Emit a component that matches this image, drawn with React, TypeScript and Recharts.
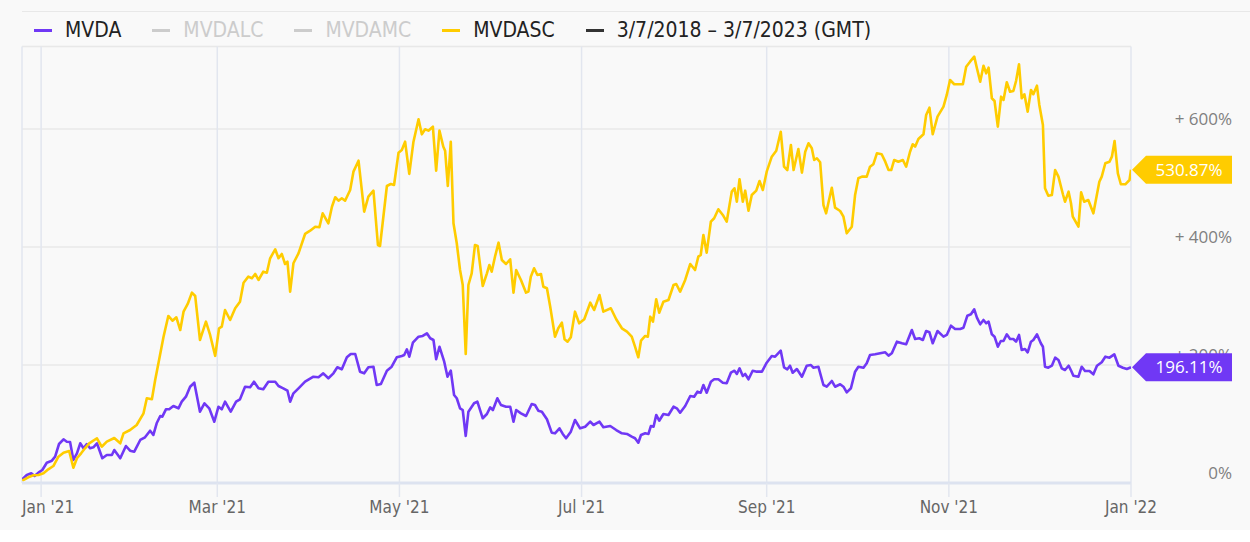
import { LineChart, Line, XAxis, YAxis, CartesianGrid, Legend, LabelList } from 'recharts';

// x values are days since 1 Jan 2021, y values are % return
const monthTicks = [0, 59, 120, 181, 243, 304, 365];
const monthLabels = ["Jan '21", "Mar '21", "May '21", "Jul '21", "Sep '21", "Nov '21", "Jan '22"];
const percentTicks = [0, 200, 400, 600];

const legendNames = ['MVDA', 'MVDALC', 'MVDAMC', 'MVDASC', '3/7/2018 – 3/7/2023 (GMT)'];
const legendSwatches = ['#7038f5', '#cccccc', '#cccccc', '#ffcc00', '#333333'];
const legendText = ['#222222', '#cccccc', '#cccccc', '#222222', '#222222'];

const mvdascDays = [
  -6.3, -4.3, -2.6, -0.9, 0.8, 2.4, 4.1, 5.8, 7.5, 9.4,
  10.8, 12.0, 13.4, 14.7, 16.1, 18.7, 20.3, 22.0, 24.5, 26.5,
  27.6, 29.8, 32.0, 34.3, 35.4, 37.1, 38.2, 39.5, 41.0, 42.6,
  44.0, 45.3, 46.6, 47.7, 49.1, 50.5, 51.6, 53.2, 55.2, 56.6,
  58.3, 59.6, 60.5, 61.6, 63.3, 65.0, 66.6, 67.8, 69.4, 70.6,
  71.7, 72.8, 74.4, 75.6, 76.7, 78.4, 79.5, 80.6, 81.7, 82.5,
  83.4, 84.5, 86.2, 88.4, 90.1, 91.8, 93.2, 94.3, 96.2, 97.4,
  98.5, 99.6, 100.7, 101.8, 103.5, 104.6, 106.3, 108.2, 109.6, 111.3,
  112.8, 113.5, 115.8, 117.1, 118.2, 119.7, 120.8, 121.9, 123.3, 124.7,
  126.4, 127.5, 128.6, 129.7, 131.2, 132.3, 133.4, 134.7, 135.3, 136.2,
  137.2, 138.1, 139.2, 140.3, 141.2, 142.2, 143.1, 144.2, 145.3, 146.2,
  147.9, 149.3, 150.1, 150.9, 152.0, 153.2, 154.3, 155.7, 157.1, 158.2,
  159.1, 160.7, 162.4, 163.2, 164.0, 165.1, 166.2, 167.4, 168.2, 169.4,
  170.5, 172.1, 173.2, 174.4, 175.3, 176.3, 177.4, 178.8, 180.2, 181.9,
  183.9, 185.2, 187.0, 188.3, 190.8, 192.6, 194.5, 196.2, 197.8, 198.9,
  200.0, 200.9, 202.3, 203.2, 204.0, 204.9, 206.0, 207.0, 208.4, 210.1,
  211.8, 212.7, 214.0, 215.7, 217.4, 219.0, 220.1, 220.9, 221.8, 222.9,
  224.3, 225.4, 226.8, 228.3, 229.6, 231.3, 232.2, 233.0, 233.9, 235.0,
  235.8, 236.9, 238.0, 239.5, 240.6, 241.7, 243.0, 244.7, 246.2, 247.7,
  248.8, 249.9, 251.1, 252.0, 253.6, 254.8, 255.9, 257.0, 258.1, 258.9,
  259.8, 260.9, 262.0, 262.9, 264.0, 264.8, 265.9, 267.6, 268.7, 269.8,
  271.5, 272.6, 273.7, 274.9, 276.5, 277.6, 278.7, 279.9, 281.5, 282.7,
  283.8, 284.7, 285.7, 287.1, 288.6, 289.7, 291.0, 291.9, 292.7, 293.8,
  295.5, 296.4, 297.5, 298.6, 300.2, 302.2, 303.3, 304.4, 305.8, 307.2,
  308.7, 309.8, 311.1, 312.5, 313.4, 314.5, 315.6, 316.5, 317.3, 318.4,
  319.3, 320.4, 321.5, 322.3, 323.4, 324.5, 325.6, 326.5, 327.5, 328.4,
  329.3, 330.4, 331.5, 332.3, 333.5, 334.3, 335.5, 336.2, 337.3, 338.5,
  339.6, 340.7, 342.2, 342.9, 344.1, 344.9, 345.5, 347.4, 348.3, 349.3,
  350.7, 352.4, 354.4, 355.2, 356.4, 357.8, 358.6, 359.5, 360.6, 361.6,
  363.1, 364.5, 365.0,
];
const mvdascValues = [
  3.9, 9.7, 13.1, 13.6, 16.4, 23.2, 28.8, 44.6, 51.4, 54.2,
  25.9, 41.9, 50.3, 58.8, 67.3, 75.8, 61.5, 70.0, 76.3, 67.3,
  84.2, 89.8, 98.3, 118.1, 143.6, 141.9, 174.6, 208.5, 248.0, 283.1,
  275.1, 280.9, 259.3, 290.4, 303.4, 322.6, 317.0, 242.4, 273.4, 250.9,
  215.5, 262.2, 264.9, 293.2, 276.3, 296.1, 307.3, 339.5, 349.7, 347.0,
  354.3, 344.1, 358.2, 356.5, 380.9, 396.1, 380.9, 388.2, 371.2, 375.1,
  324.3, 372.4, 389.3, 422.1, 427.6, 434.4, 433.4, 457.1, 440.2, 468.3,
  484.3, 478.5, 482.6, 478.5, 496.6, 527.7, 546.3, 459.9, 485.3, 495.5,
  403.4, 401.7, 503.4, 506.8, 505.1, 559.9, 564.4, 578.5, 523.8, 578.5,
  616.5, 591.0, 599.5, 597.2, 603.9, 529.4, 597.2, 570.0, 563.2, 503.4,
  578.5, 440.2, 406.3, 361.0, 335.6, 218.7, 335.6, 355.4, 403.4, 401.7,
  333.9, 355.4, 369.5, 358.2, 383.6, 407.3, 378.0, 371.2, 379.2, 322.6,
  361.0, 344.1, 322.6, 324.3, 349.7, 363.9, 352.6, 354.3, 332.7, 330.0,
  298.8, 248.0, 262.2, 271.7, 243.6, 239.5, 247.0, 290.4, 270.7, 277.5,
  305.6, 293.2, 318.7, 290.4, 296.1, 277.5, 262.2, 256.5, 248.0, 231.0,
  213.1, 241.2, 249.2, 248.0, 281.9, 273.4, 311.4, 288.7, 307.3, 310.2,
  335.6, 337.3, 324.3, 344.1, 371.2, 361.0, 383.6, 386.5, 420.4, 390.4,
  442.9, 448.7, 463.9, 454.3, 442.9, 493.8, 499.5, 476.8, 514.8, 476.8,
  495.5, 461.5, 488.2, 495.5, 511.9, 496.6, 527.7, 553.1, 563.2, 595.4,
  536.1, 530.5, 572.9, 530.5, 566.1, 526.0, 561.5, 575.8, 567.3, 547.5,
  550.4, 543.6, 471.2, 457.1, 482.6, 500.5, 466.6, 461.0, 451.4, 423.2,
  434.4, 488.2, 516.5, 519.2, 519.2, 536.1, 540.2, 558.8, 557.2, 544.6,
  530.5, 530.5, 547.5, 544.6, 547.5, 536.1, 561.5, 574.1, 570.0, 583.1,
  591.1, 623.8, 636.1, 591.1, 620.9, 637.8, 657.7, 683.1, 675.8, 675.8,
  675.8, 705.6, 714.1, 722.6, 702.9, 680.2, 707.3, 694.4, 703.9, 652.1,
  647.5, 603.9, 654.8, 649.2, 679.2, 663.2, 664.4, 681.4, 709.7, 652.1,
  658.9, 629.4, 666.1, 658.9, 673.4, 640.7, 606.8, 499.5, 487.0, 488.2,
  530.5, 519.2, 489.4, 476.8, 493.8, 474.1, 451.4, 434.4, 492.7, 476.8,
  479.7, 457.1, 510.7, 519.2, 541.9, 544.6, 553.1, 579.7, 524.9, 506.3,
  506.3, 513.6, 530.87,
];

const mvdaDays = [
  -6.3, -4.8, -3.3, -2.2, -0.9, 0.4, 1.9, 3.6, 4.7, 6.0,
  7.5, 8.6, 9.7, 10.8, 12.0, 13.1, 14.2, 15.3, 16.4, 17.5,
  18.7, 20.5, 22.0, 23.7, 24.5, 26.5, 28.4, 29.8, 31.2, 33.2,
  34.8, 36.5, 37.6, 38.7, 39.9, 40.6, 41.8, 42.9, 44.3, 46.0,
  47.1, 48.5, 49.9, 51.3, 53.2, 54.7, 56.3, 58.0, 59.4, 60.5,
  61.6, 63.5, 65.3, 66.6, 68.3, 70.0, 71.3, 72.8, 74.4, 76.1,
  78.4, 79.5, 81.1, 82.5, 83.4, 84.5, 86.2, 88.4, 91.2, 92.9,
  94.5, 96.2, 97.9, 99.2, 100.7, 102.4, 103.7, 105.2, 106.8, 108.2,
  109.6, 111.3, 112.4, 113.8, 115.8, 117.4, 119.1, 120.8, 121.6, 122.5,
  123.3, 124.5, 126.4, 127.8, 129.2, 130.3, 131.4, 132.3, 133.4, 135.0,
  136.1, 137.2, 138.3, 139.2, 140.3, 141.2, 142.2, 143.1, 145.0, 146.1,
  147.9, 149.3, 150.4, 151.3, 152.8, 154.0, 155.7, 157.1, 158.2, 159.1,
  160.7, 162.4, 164.3, 165.4, 166.5, 167.7, 169.4, 171.0, 172.1, 173.6,
  174.7, 175.8, 177.4, 178.8, 180.5, 182.2, 183.9, 185.0, 187.0, 188.3,
  190.6, 192.6, 194.5, 196.2, 197.8, 198.9, 200.0, 200.9, 202.3, 203.4,
  204.2, 205.1, 206.0, 207.0, 208.4, 210.1, 211.8, 212.9, 214.0, 215.7,
  217.4, 218.7, 219.8, 220.9, 221.8, 222.9, 224.3, 225.4, 226.8, 228.3,
  229.6, 231.0, 232.2, 233.0, 233.9, 235.0, 235.8, 236.9, 238.3, 239.7,
  241.4, 243.0, 244.7, 245.8, 247.7, 248.8, 249.9, 250.8, 251.7, 253.1,
  254.8, 256.4, 257.8, 258.6, 260.3, 262.0, 263.1, 264.8, 265.9, 267.6,
  268.7, 269.8, 271.2, 272.6, 273.7, 275.4, 276.5, 277.6, 279.3, 281.0,
  282.7, 283.8, 284.9, 286.6, 288.3, 289.7, 291.6, 292.7, 294.1, 295.3,
  296.4, 297.5, 298.6, 300.2, 302.2, 303.3, 304.7, 306.1, 307.8, 308.9,
  310.2, 311.4, 312.5, 313.4, 314.5, 315.6, 316.5, 317.3, 318.4, 319.3,
  320.4, 321.4, 322.3, 323.4, 324.5, 325.6, 326.5, 327.5, 328.4, 329.5,
  330.4, 331.5, 332.3, 333.5, 334.8, 335.5, 336.2, 337.3, 338.5, 339.6,
  340.7, 341.8, 342.9, 344.1, 345.0, 345.7, 347.4, 348.5, 349.6, 351.1,
  352.4, 353.6, 355.2, 356.4, 357.8, 359.4, 360.8, 362.3, 363.6, 365.0,
];
const mvdaValues = [
  6.3, 13.6, 16.4, 11.9, 17.5, 22.0, 34.4, 37.8, 44.6, 66.1,
  74.1, 70.0, 69.5, 39.0, 50.3, 67.3, 58.8, 66.1, 58.8, 60.5,
  67.3, 41.9, 47.5, 47.5, 55.9, 41.9, 62.7, 54.7, 53.1, 72.9,
  77.5, 88.6, 81.4, 101.2, 113.6, 112.4, 124.9, 124.9, 130.5, 126.6,
  137.8, 146.3, 163.2, 170.0, 120.9, 135.1, 126.6, 103.9, 129.3, 124.9,
  137.8, 120.9, 137.8, 141.9, 163.2, 162.2, 171.7, 160.5, 158.8, 171.7,
  171.7, 164.4, 160.5, 156.4, 137.8, 152.0, 160.5, 171.7, 180.2, 179.2,
  185.9, 177.5, 185.9, 196.1, 192.7, 213.1, 218.7, 218.7, 188.7, 185.9,
  196.1, 197.1, 166.1, 167.8, 190.3, 197.1, 213.1, 215.3, 217.0, 226.6,
  214.1, 237.8, 248.0, 249.2, 253.7, 245.3, 242.4, 209.7, 231.0, 205.6,
  180.2, 190.3, 149.2, 143.6, 126.6, 123.7, 79.7, 120.9, 135.1, 137.8,
  109.7, 117.0, 128.3, 123.7, 143.6, 132.2, 129.3, 129.3, 103.9, 123.7,
  118.1, 113.6, 133.9, 132.2, 122.5, 120.9, 108.0, 85.3, 84.2, 92.7,
  83.1, 75.8, 87.0, 106.8, 92.7, 95.4, 103.9, 98.3, 103.9, 94.4,
  96.6, 89.8, 84.2, 83.1, 78.5, 75.8, 68.3, 81.4, 84.2, 83.1,
  96.6, 95.4, 115.3, 105.6, 117.0, 115.3, 129.3, 126.6, 119.2, 130.5,
  147.5, 146.3, 154.8, 153.1, 166.1, 153.1, 171.7, 175.8, 175.8, 170.0,
  169.0, 187.0, 190.3, 184.8, 194.4, 181.4, 184.8, 175.8, 190.3, 188.7,
  188.7, 203.9, 215.3, 214.1, 224.2, 196.1, 192.7, 198.8, 187.0, 193.2,
  180.2, 198.8, 200.0, 195.4, 197.1, 166.1, 163.2, 172.9, 163.2, 167.3,
  163.2, 153.7, 160.5, 188.7, 197.1, 195.4, 202.9, 217.0, 218.1, 219.8,
  221.5, 215.8, 219.8, 239.5, 236.8, 235.1, 259.3, 244.1, 245.3, 242.4,
  257.6, 255.4, 236.8, 257.6, 248.0, 250.9, 266.6, 261.0, 261.0, 263.2,
  283.6, 285.9, 294.4, 280.2, 269.0, 276.3, 270.7, 273.4, 252.0, 248.0,
  231.0, 240.7, 240.7, 252.0, 244.1, 244.1, 239.5, 250.9, 225.4, 227.1,
  221.5, 239.5, 242.4, 252.0, 236.8, 231.0, 197.1, 195.4, 198.8, 212.4,
  208.5, 194.4, 191.5, 198.8, 189.8, 181.9, 180.2, 197.1, 189.8, 189.8,
  184.2, 198.8, 204.6, 214.1, 212.4, 218.1, 198.8, 195.4, 193.2, 196.11,
];

const NARROW = '"Liberation Sans Narrow", "DejaVu Sans Condensed", "Arial Narrow", sans-serif';
const SANS = '"Open Sans", "Noto Sans", sans-serif';
const PURPLE = '#7038f5';
const YELLOW = '#ffcc00';

const toRows = (days: number[], values: number[]) =>
  days.map((day, i) => ({ day, value: values[i] }));

const mvdaData = toRows(mvdaDays, mvdaValues);
const mvdascData = toRows(mvdascDays, mvdascValues);

function MonthTick({ x, y, payload, index }: any) {
  const label = monthLabels[monthTicks.indexOf(payload.value)];
  const first = index === 0;
  return (
    <text
      x={first ? x - 19 : x}
      y={y}
      dy={14}
      textAnchor={first ? 'start' : 'middle'}
      fill="#666"
      fontSize={17}
      fontFamily={NARROW}
    >
      {label}
    </text>
  );
}

function PercentTick({ y, payload }: any) {
  const v = payload.value;
  return (
    <text x={1232} y={y} dy={-4} textAnchor="end" fill="#808080" fontSize={17} fontFamily={SANS}>
      {v === 0 ? '0%' : `+ ${v}%`}
    </text>
  );
}

// price flag shown next to the last point of a series
const makeFlag = (color: string, lastIndex: number) => (props: any) => {
  if (props.index !== lastIndex) return null;
  const x = props.x ?? props.viewBox?.x;
  const y = props.y ?? props.viewBox?.y;
  const pts = `${x + 1},${y} ${x + 15},${y - 14} ${x + 101},${y - 14} ${x + 101},${y + 14} ${x + 15},${y + 14}`;
  return (
    <g>
      <polygon points={pts} fill={color} />
      <text x={x + 58} y={y + 6} textAnchor="middle" fill="#fff" fontSize={17} fontFamily={SANS}>
        {`${Number(props.value).toFixed(2)}%`}
      </text>
    </g>
  );
};

const renderLegend = () => (
  <div style={{ display: 'flex', alignItems: 'center', fontFamily: NARROW, fontSize: 21 }}>
    {legendNames.map((name, i) => (
      <div key={name} style={{ display: 'flex', alignItems: 'center', marginRight: 31 }}>
        <span style={{ display: 'inline-block', width: 18, height: 3, background: legendSwatches[i], marginRight: 13 }} />
        <span style={{ color: legendText[i] }}>{name}</span>
      </div>
    ))}
  </div>
);

export default function App() {
  return (
    <div style={{ position: 'absolute', left: 0, top: 0, width: 1250, height: 542, background: '#ffffff' }}>
      <div style={{ position: 'absolute', left: 0, top: 0, width: 1250, height: 530, background: '#f9f9f9' }} />
      <div style={{ position: 'absolute', left: 22, top: 11, width: 1228, borderTop: '1px solid #e8e8e8' }} />
      <LineChart
        width={1250}
        height={542}
        margin={{ top: 46.4, right: 0, bottom: 0, left: 22 }}
        style={{ position: 'absolute', left: 0, top: 0 }}
      >
        <CartesianGrid vertical={false} stroke="#e8e8e8" strokeWidth={1.5} />
        <CartesianGrid horizontal={false} stroke="#e2e6ef" strokeWidth={1.5} />
        <XAxis
          type="number"
          dataKey="day"
          domain={[-6.4, 365]}
          allowDataOverflow
          ticks={monthTicks}
          height={59}
          axisLine={{ stroke: '#dde3f0', strokeWidth: 3 }}
          tickLine={{ stroke: '#e2e6ef', strokeWidth: 1.5 }}
          tickSize={14}
          tickMargin={2}
          tick={<MonthTick />}
          interval={0}
        />
        <YAxis
          orientation="right"
          type="number"
          domain={[0, 740]}
          ticks={percentTicks}
          width={119}
          axisLine={false}
          tickLine={false}
          tick={<PercentTick />}
          interval={0}
        />
        <Legend
          layout="horizontal"
          verticalAlign="middle"
          align="center"
          content={renderLegend}
          wrapperStyle={{ top: 18, left: 34, width: 1100 }}
        />
        <Line
          data={mvdaData}
          dataKey="value"
          name="MVDA"
          type="linear"
          stroke={PURPLE}
          strokeWidth={2.6}
          strokeLinejoin="round"
          dot={false}
          isAnimationActive={false}
        >
          <LabelList dataKey="value" content={makeFlag(PURPLE, mvdaData.length - 1)} />
        </Line>
        <Line
          data={mvdascData}
          dataKey="value"
          name="MVDASC"
          type="linear"
          stroke={YELLOW}
          strokeWidth={2.6}
          strokeLinejoin="round"
          dot={false}
          isAnimationActive={false}
        >
          <LabelList dataKey="value" content={makeFlag(YELLOW, mvdascData.length - 1)} />
        </Line>
      </LineChart>
    </div>
  );
}
